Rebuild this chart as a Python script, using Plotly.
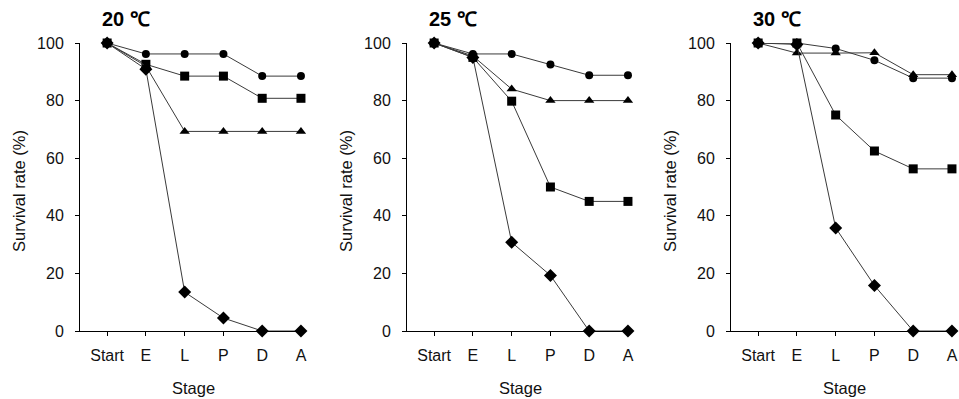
import plotly.graph_objects as go

stages = ["Start", "E", "L", "P", "D", "A"]
panel_titles = ["20 ℃", "25 ℃", "30 ℃"]

# 20 C
t20_circle = [100, 96.2, 96.2, 96.2, 88.5, 88.5]
t20_square = [100, 92.6, 88.5, 88.5, 80.8, 80.8]
t20_triangle = [100, 92.0, 69.3, 69.3, 69.3, 69.3]
t20_diamond = [100, 90.9, 13.5, 4.5, 0, 0]

# 25 C
t25_circle = [100, 96.2, 96.2, 92.5, 88.8, 88.8]
t25_triangle = [100, 95.5, 84.0, 80.0, 80.0, 80.0]
t25_square = [100, 95.0, 79.8, 50.0, 45.0, 45.0]
t25_diamond = [100, 95.0, 30.8, 19.3, 0, 0]

# 30 C
t30_circle = [100, 100, 98.1, 94.0, 87.8, 87.8]
t30_triangle = [100, 96.5, 96.5, 96.6, 89.0, 89.0]
t30_square = [100, 100, 75.0, 62.5, 56.3, 56.3]
t30_diamond = [100, 99.5, 35.8, 15.8, 0, 0]

panels = [
    [("circle", t20_circle), ("square", t20_square), ("triangle-up", t20_triangle), ("diamond", t20_diamond)],
    [("circle", t25_circle), ("triangle-up", t25_triangle), ("square", t25_square), ("diamond", t25_diamond)],
    [("circle", t30_circle), ("triangle-up", t30_triangle), ("square", t30_square), ("diamond", t30_diamond)],
]

W, H = 959, 399
x_px = [(80, 306), (407, 633), (731, 957)]
y_top, y_bot = 43, 331


def px(x):
    return x / W


def py(y):
    return 1 - y / H


ydom = [py(y_bot), py(y_top)]

sizes = {"circle": 8, "square": 9, "triangle-up": 9, "diamond": 10}

fig = go.Figure()
font_family = "Liberation Sans, Arial, sans-serif"
txt_color = "#111111"
xs = list(range(len(stages)))

for i, series in enumerate(panels):
    ax = "" if i == 0 else str(i + 1)
    for sym, vals in series:
        fig.add_trace(go.Scatter(
            x=xs, y=vals, mode="lines+markers",
            xaxis="x" + ax, yaxis="y" + ax,
            line=dict(color="#3a3a3a", width=1),
            marker=dict(symbol=sym, size=sizes[sym], color="black", line=dict(width=0)),
            cliponaxis=False, showlegend=False,
        ))
    x0, x1 = x_px[i]
    fig.layout["xaxis" + ax] = dict(
        domain=[px(x0), px(x1)], anchor="y" + ax, automargin=False,
        range=[-0.7, 5.13], tickvals=xs, ticktext=stages,
        showline=True, linecolor="black", linewidth=1,
        ticks="outside", ticklen=4, tickcolor="black",
        showgrid=False, zeroline=False, ticklabelstandoff=6,
        tickfont=dict(family=font_family, size=16, color=txt_color),
    )
    fig.layout["yaxis" + ax] = dict(
        domain=ydom, anchor="x" + ax, automargin=False,
        range=[0, 100], tickvals=[0, 20, 40, 60, 80, 100],
        showline=True, linecolor="black", linewidth=1,
        ticks="outside", ticklen=4, tickcolor="black",
        showgrid=False, zeroline=False, ticklabelstandoff=8,
        tickfont=dict(family=font_family, size=16, color=txt_color),
    )
    # panel title
    fig.add_annotation(
        text="<b>" + panel_titles[i] + "</b>", xref="paper", yref="paper",
        x=px(x0 + 20), y=py(19), xanchor="left", yanchor="middle",
        showarrow=False, font=dict(family=font_family, size=20, color="black"),
    )
    # y title
    fig.add_annotation(
        text="Survival rate (%)", xref="paper", yref="paper",
        x=px(x0 - 61), y=py(191), xanchor="center", yanchor="middle",
        textangle=-90, showarrow=False,
        font=dict(family=font_family, size=16.5, color=txt_color),
    )
    # x title
    fig.add_annotation(
        text="Stage", xref="paper", yref="paper",
        x=px((x0 + x1) / 2), y=py(388), xanchor="center", yanchor="middle",
        showarrow=False, font=dict(family=font_family, size=16.5, color=txt_color),
    )

fig.update_layout(
    width=W, height=H,
    margin=dict(l=0, r=0, t=0, b=0, autoexpand=False),
    paper_bgcolor="white", plot_bgcolor="white",
)

fig.write_html(
    "out.html",
    config={"displayModeBar": False},
    post_script="document.body.style.margin='0';document.body.style.overflow='hidden';",
)
